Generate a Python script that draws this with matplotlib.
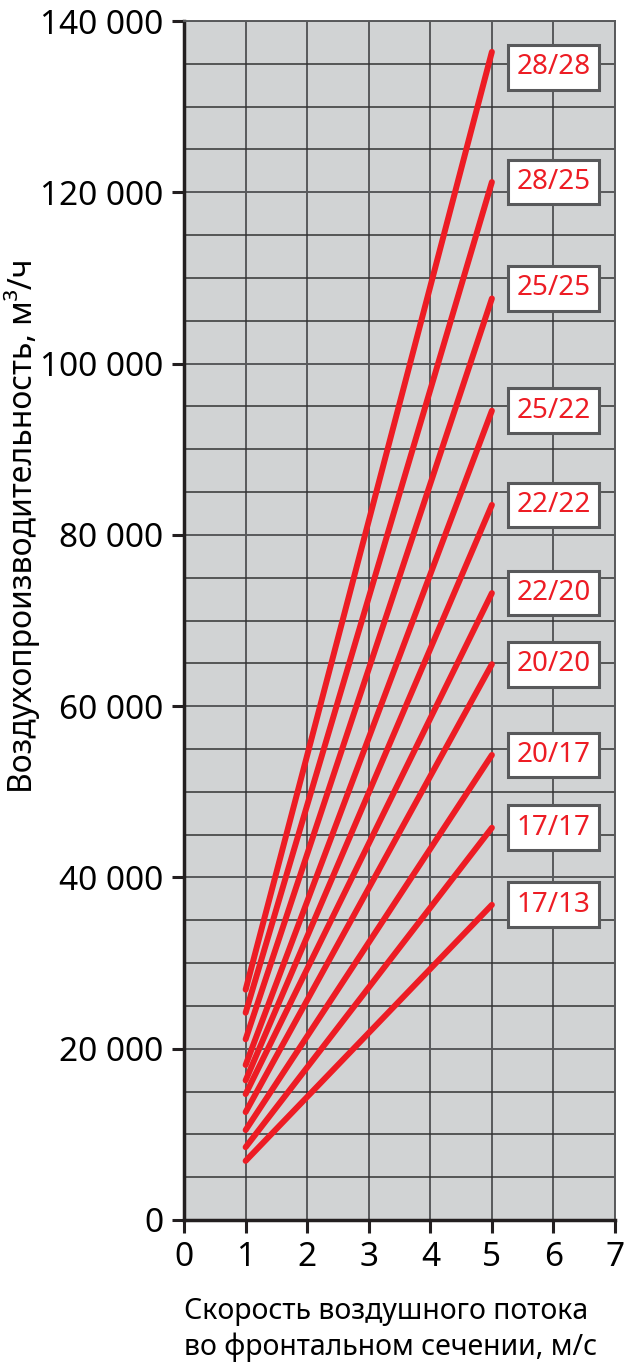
import matplotlib
matplotlib.use("Agg")
import matplotlib.pyplot as plt
from matplotlib.ticker import MultipleLocator, FuncFormatter

plt.rcParams['font.family'] = ['Noto Sans', 'DejaVu Sans']

# section sizes and air flow (m3/h) at 1 and 5 m/s
sections = ['28/28', '28/25', '25/25', '25/22', '22/22',
            '22/20', '20/20', '20/17', '17/17', '17/13']
speed = [1, 5]
flow_start = [26900, 24200, 21100, 18100, 16300, 14700, 12600, 10500, 8500, 6900]
flow_end = [136400, 121200, 107600, 94500, 83500, 73200, 64900, 54300, 45800, 36800]

red = '#ed1c24'
grid_col = '#58595b'

# labels that sit a bit off the line end in the original
label_nudge = {'28/28': -1800, '25/25': 1200}

fig = plt.figure(figsize=(6.24, 13.66), dpi=100)
ax = fig.add_axes([0.295, 0.1069, 0.6906, 0.8777])
ax.set_facecolor('#d1d3d4')

ax.set_xlim(0, 7)
ax.set_ylim(0, 140000)
ax.xaxis.set_major_locator(MultipleLocator(1))
ax.yaxis.set_major_locator(MultipleLocator(20000))
ax.yaxis.set_minor_locator(MultipleLocator(5000))
ax.yaxis.set_major_formatter(FuncFormatter(lambda v, p: f'{int(v):,}'.replace(',', ' ')))

ax.grid(which='major', color=grid_col, lw=1.4)
ax.grid(which='minor', axis='y', color='#333333', lw=1.1)
ax.set_axisbelow(True)

for s in ['top', 'right']:
    ax.spines[s].set_color(grid_col)
    ax.spines[s].set_linewidth(1.4)
for s in ['left', 'bottom']:
    ax.spines[s].set_color('#231f20')
    ax.spines[s].set_linewidth(2.5)

ax.tick_params(which='major', direction='out', length=9, width=2.2, color='#231f20',
               labelsize=24, pad=6)
ax.tick_params(which='minor', length=0)

for name, y0, y1 in zip(sections, flow_start, flow_end):
    ax.plot(speed, [y0, y1], color=red, lw=4.3, solid_capstyle='round', zorder=3)
    ax.text(6, y1 + label_nudge.get(name, 0), name, color=red, fontsize=20,
            ha='center', va='center', zorder=4,
            bbox=dict(boxstyle='square,pad=0.3', fc='white', ec=grid_col, lw=2.2))

ax.set_ylabel('Воздухопроизводительность, м³/ч', fontsize=23)
ax.yaxis.set_label_coords(-0.335, 0.579)
ax.set_xlabel('Скорость воздушного потока\nво фронтальном сечении, м/с',
              fontsize=20.5, linespacing=1.3, ha='left', multialignment='left')
ax.xaxis.set_label_coords(0.0, -0.064)
ax.xaxis.label.set_va('top')

fig.savefig('out.png', dpi=100)
